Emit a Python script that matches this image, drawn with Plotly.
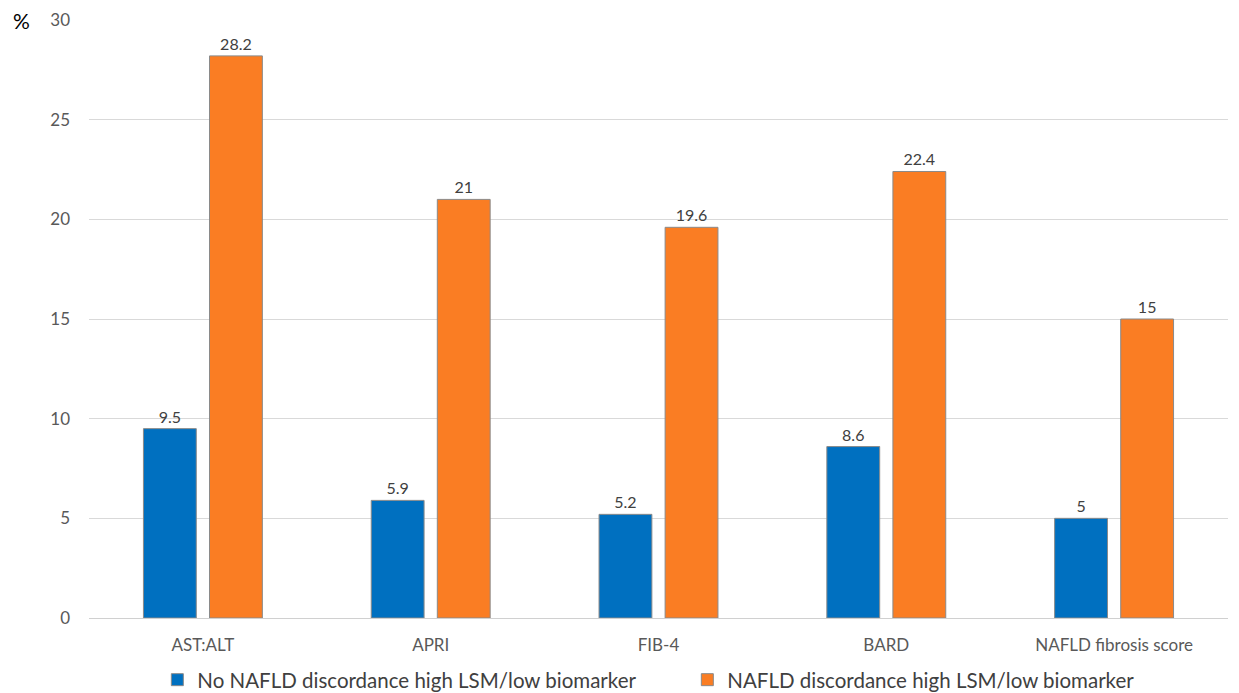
import plotly.graph_objects as go

categories = ["AST:ALT", "APRI", "FIB-4", "BARD", "NAFLD fibrosis score"]
no_nafld = [9.5, 5.9, 5.2, 8.6, 5]
nafld = [28.2, 21, 19.6, 22.4, 15]
series_names = ["No NAFLD discordance high LSM/low biomarker",
                "NAFLD discordance high LSM/low biomarker"]
y_ticks = [0, 5, 10, 15, 20, 25, 30]

font_family = "Lato, 'Open Sans', sans-serif"

fig = go.Figure()
fig.add_trace(go.Bar(
    x=categories, y=no_nafld, name=series_names[0],
    marker=dict(color="#0070C0", line=dict(color="#8a8a8a", width=1)),
    text=[str(v) for v in no_nafld], textposition="outside",
    textfont=dict(size=16, color="#404040", family=font_family),
    cliponaxis=False,
))
fig.add_trace(go.Bar(
    x=categories, y=nafld, name=series_names[1],
    marker=dict(color="#FA7D23", line=dict(color="#8a8a8a", width=1)),
    text=[str(v) for v in nafld], textposition="outside",
    textfont=dict(size=16, color="#404040", family=font_family),
    cliponaxis=False,
))

fig.update_layout(
    width=1239, height=693,
    margin=dict(l=89, r=11, t=20, b=75, autoexpand=False),
    paper_bgcolor="white", plot_bgcolor="white",
    barmode="group", bargap=0.42, bargroupgap=0.2,
    font=dict(family=font_family, color="#595959", size=17),
    showlegend=True,
    legend=dict(orientation="h", x=0.06, xanchor="left",
                yref="container", y=0.019, yanchor="middle",
                font=dict(size=20.5, color="#404040"), itemwidth=30,
                entrywidth=485, traceorder="normal"),
    xaxis=dict(showgrid=False, showline=True, linecolor="#d0d0d0", linewidth=1,
               ticks="", ticklabelstandoff=12,
               tickfont=dict(size=17, color="#595959")),
    yaxis=dict(range=[0, 30], tickvals=y_ticks, showgrid=True, gridcolor="#d9d9d9",
               gridwidth=1, zeroline=False, showline=False, ticks="",
               ticklabelstandoff=18,
               tickfont=dict(size=17, color="#595959")),
    annotations=[dict(text="%", x=0, xref="paper", xshift=-68, y=30, yref="y",
                      showarrow=False, font=dict(size=21, color="black"),
                      xanchor="center", yanchor="middle")],
)

fig.write_html("out.html")
